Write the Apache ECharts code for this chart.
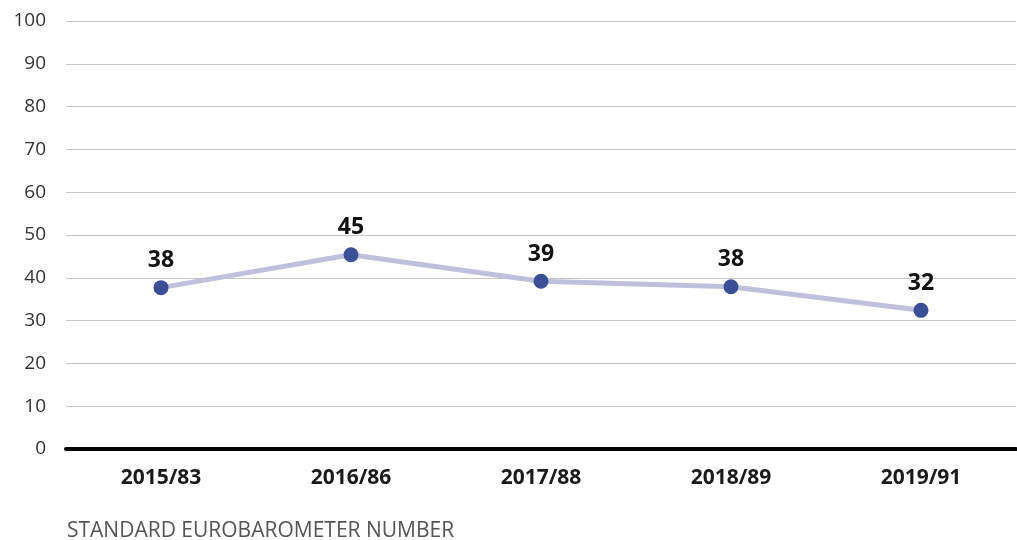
<!DOCTYPE html>
<html>
<head>
<meta charset="utf-8">
<script src="https://cdn.jsdelivr.net/npm/echarts@6/dist/echarts.min.js"></script>
<style>
  html, body { margin: 0; padding: 0; background: #fff; }
  #chart { width: 1017px; height: 540px; }
</style>
</head>
<body>
<div id="chart"></div>
<script>
// survey waves
const categories = ['2015/83', '2016/86', '2017/88', '2018/89', '2019/91'];
// share (%)
const values = [37.7, 45.4, 39.2, 37.9, 32.4];
const yTicks = [0, 10, 20, 30, 40, 50, 60, 70, 80, 90, 100];

const chart = echarts.init(document.getElementById('chart'));
const font = '"Open Sans", "Noto Sans", sans-serif';

chart.setOption({
  animation: false,
  backgroundColor: '#fff',
  grid: { left: 66, right: 1, top: 21, bottom: 91 },
  title: {
    text: 'STANDARD EUROBAROMETER NUMBER',
    left: 62,
    top: 516,
    textStyle: { fontFamily: font, fontSize: 21, fontWeight: 'normal', color: '#555' }
  },
  xAxis: {
    type: 'category',
    data: categories,
    boundaryGap: true,
    axisLine: { show: true, lineStyle: { color: '#000', width: 4 } },
    axisTick: { show: false },
    axisLabel: { margin: 19, fontFamily: font, fontSize: 21, fontWeight: 'bold', color: '#1a1a1a' }
  },
  yAxis: {
    type: 'value',
    min: yTicks[0],
    max: yTicks[yTicks.length - 1],
    interval: 10,
    axisLine: { show: false },
    axisTick: { show: false },
    splitLine: { lineStyle: { color: '#c8c8c8', width: 1 } },
    axisLabel: { margin: 20, fontFamily: font, fontSize: 19, color: '#333' }
  },
  series: [{
    type: 'line',
    data: values,
    symbol: 'circle',
    symbolSize: 15,
    lineStyle: { color: '#c0c0de', width: 5 },
    itemStyle: { color: '#3b4f96' },
    label: {
      show: true,
      position: 'top',
      distance: 8,
      fontFamily: font,
      fontSize: 23,
      fontWeight: 'bold',
      color: '#111',
      formatter: p => Math.round(p.value)
    }
  }]
});
</script>
</body>
</html>
